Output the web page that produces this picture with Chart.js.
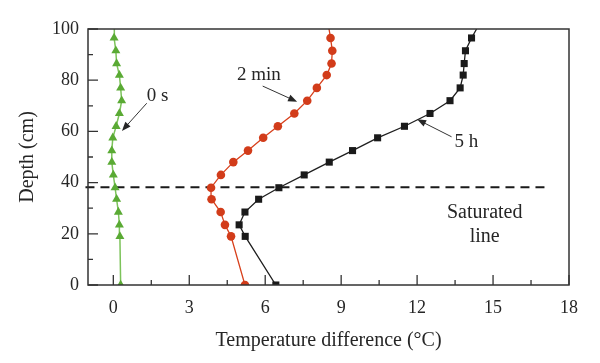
<!DOCTYPE html>
<html lang="en">
<head>
<meta charset="UTF-8">
<title>Depth vs temperature difference</title>
<script src="https://cdn.jsdelivr.net/npm/chart.js"></script>
<style>
  body { margin: 0; background: #fff; }
  canvas { display: block; }
</style>
</head>
<body>
<canvas id="depthChart" width="600" height="363"></canvas>
<script>
// depth (cm) of each measuring point, last one = top of the column (no marker)
const depths   = [0, 19, 23.5, 28.5, 33.5, 38, 43, 48, 52.5, 57.5, 62, 67, 72, 77, 82, 86.5, 91.5, 96.5, 100];
// temperature difference (°C) at each depth
const temp0s   = [0.29, 0.26, 0.24, 0.2, 0.13, 0.07, 0, -0.06, -0.06, -0.02, 0.11, 0.24, 0.33, 0.29, 0.24, 0.13, 0.1, 0.03, 0.04];
const temp2min = [5.2, 4.65, 4.41, 4.24, 3.88, 3.86, 4.25, 4.74, 5.32, 5.92, 6.5, 7.15, 7.66, 8.04, 8.43, 8.62, 8.65, 8.58, 8.52];
const temp5h   = [6.42, 5.21, 4.97, 5.2, 5.74, 6.54, 7.54, 8.53, 9.45, 10.44, 11.5, 12.51, 13.3, 13.7, 13.82, 13.86, 13.91, 14.15, 14.35];
const seriesNames = ['0 s', '2 min', '5 h'];

// saturated line
const satDepth = 38.2;
const satFrom = -1.1;
const satTo = 17.1;

const xTicks = [0, 3, 6, 9, 12, 15, 18];
const yTicks = [0, 20, 40, 60, 80, 100];

const FONT = '"Liberation Serif", "DejaVu Serif", serif';
const INK = '#262626';

function points(xs) {
    return xs.map((v, i) => ({ x: v, y: depths[i] }));
}
// hide the marker on the top-of-column point
const markerSize = (r) => (ctx) => depths[ctx.dataIndex] === 100 ? 0 : r;

// callouts, in data coordinates
const callouts = [
    { text: seriesNames[0], tx: 1.75, ty: 74, from: [1.32, 71], to: [0.34, 60.2] },
    { text: seriesNames[1], tx: 5.75, ty: 82, from: [5.9, 77.7], to: [7.26, 71.6] },
    { text: seriesNames[2], tx: 13.95, ty: 56, from: [13.36, 57.9], to: [12.0, 64.7] }
];

const decorations = {
    id: 'decorations',
    afterDraw(chart) {
        const { ctx, chartArea: a, scales: { x, y } } = chart;
        ctx.save();
        // frame
        ctx.strokeStyle = '#333';
        ctx.lineWidth = 1.5;
        ctx.strokeRect(a.left, a.top, a.right - a.left, a.bottom - a.top);

        // inward ticks
        ctx.lineWidth = 1.3;
        ctx.beginPath();
        xTicks.forEach((v, i) => {
            const px = x.getPixelForValue(v);
            ctx.moveTo(px, a.bottom); ctx.lineTo(px, a.bottom - 10);
            if (i < xTicks.length - 1) {
                const mx = x.getPixelForValue(v + 1.5);
                ctx.moveTo(mx, a.bottom); ctx.lineTo(mx, a.bottom - 5);
            }
        });
        yTicks.forEach((v, i) => {
            const py = y.getPixelForValue(v);
            ctx.moveTo(a.left, py); ctx.lineTo(a.left + 10, py);
            if (i < yTicks.length - 1) {
                const my = y.getPixelForValue(v + 10);
                ctx.moveTo(a.left, my); ctx.lineTo(a.left + 5, my);
            }
        });
        ctx.stroke();

        // callouts with arrows
        ctx.fillStyle = INK;
        ctx.strokeStyle = '#333';
        ctx.font = '19px ' + FONT;
        ctx.textAlign = 'center';
        ctx.textBaseline = 'middle';
        callouts.forEach(c => {
            ctx.fillText(c.text, x.getPixelForValue(c.tx), y.getPixelForValue(c.ty));
            const x1 = x.getPixelForValue(c.from[0]), y1 = y.getPixelForValue(c.from[1]);
            const x2 = x.getPixelForValue(c.to[0]), y2 = y.getPixelForValue(c.to[1]);
            const ang = Math.atan2(y2 - y1, x2 - x1);
            ctx.lineWidth = 1;
            ctx.beginPath();
            ctx.moveTo(x1, y1);
            ctx.lineTo(x2 - 6 * Math.cos(ang), y2 - 6 * Math.sin(ang));
            ctx.stroke();
            ctx.beginPath();
            ctx.moveTo(x2, y2);
            ctx.lineTo(x2 - 9 * Math.cos(ang) + 3.5 * Math.sin(ang), y2 - 9 * Math.sin(ang) - 3.5 * Math.cos(ang));
            ctx.lineTo(x2 - 9 * Math.cos(ang) - 3.5 * Math.sin(ang), y2 - 9 * Math.sin(ang) + 3.5 * Math.cos(ang));
            ctx.closePath();
            ctx.fill();
        });

        ctx.font = '20px ' + FONT;
        ctx.fillText('Saturated', x.getPixelForValue(14.67), y.getPixelForValue(28.1));
        ctx.fillText('line', x.getPixelForValue(14.67), y.getPixelForValue(18.8));
        ctx.restore();
    }
};

new Chart(document.getElementById('depthChart'), {
    type: 'line',
    data: {
        datasets: [
            {
                label: seriesNames[0],
                data: points(temp0s),
                borderColor: '#7cc35a',
                borderWidth: 1.5,
                pointStyle: 'triangle',
                pointRadius: markerSize(5.2),
                pointBackgroundColor: '#5aaa34',
                pointBorderWidth: 0
            },
            {
                label: seriesNames[1],
                data: points(temp2min),
                borderColor: '#d8401c',
                borderWidth: 1.3,
                pointStyle: 'circle',
                pointRadius: markerSize(4.3),
                pointBackgroundColor: '#d23c1a',
                pointBorderWidth: 0
            },
            {
                label: seriesNames[2],
                data: points(temp5h),
                borderColor: '#1e1e1e',
                borderWidth: 1.3,
                pointStyle: 'rect',
                pointRadius: markerSize(5),
                pointBackgroundColor: '#1a1a1a',
                pointBorderWidth: 0
            },
            {
                label: 'Saturated line',
                data: [{ x: satFrom, y: satDepth }, { x: satTo, y: satDepth }],
                borderColor: '#1a1a1a',
                borderWidth: 2,
                borderDash: [9, 6],
                pointRadius: 0,
                clip: false
            }
        ]
    },
    options: {
        responsive: false,
        animation: false,
        layout: { padding: { top: 29, right: 31, left: 0, bottom: 0 } },
        plugins: { legend: { display: false }, tooltip: { enabled: false } },
        scales: {
            x: {
                type: 'linear',
                min: -1,
                max: 18,
                grid: { display: false, drawTicks: false },
                border: { display: false },
                afterBuildTicks: s => { s.ticks = xTicks.map(v => ({ value: v })); },
                afterFit: s => { s.height = 78; },
                ticks: { padding: 12, color: INK, autoSkip: false, maxRotation: 0, font: { family: FONT, size: 18 } },
                title: { display: true, text: 'Temperature difference (°C)', color: INK, font: { family: FONT, size: 20 }, padding: { top: 0, bottom: 10 } }
            },
            y: {
                type: 'linear',
                min: 0,
                max: 100,
                grid: { display: false, drawTicks: false },
                border: { display: false },
                afterBuildTicks: s => { s.ticks = yTicks.map(v => ({ value: v })); },
                afterFit: s => { s.width = 88; },
                ticks: { padding: 9, color: INK, autoSkip: false, font: { family: FONT, size: 18 } },
                title: { display: true, text: 'Depth (cm)', color: INK, font: { family: FONT, size: 20 }, padding: { top: 16, bottom: 0 } }
            }
        }
    },
    plugins: [decorations]
});
</script>
</body>
</html>
